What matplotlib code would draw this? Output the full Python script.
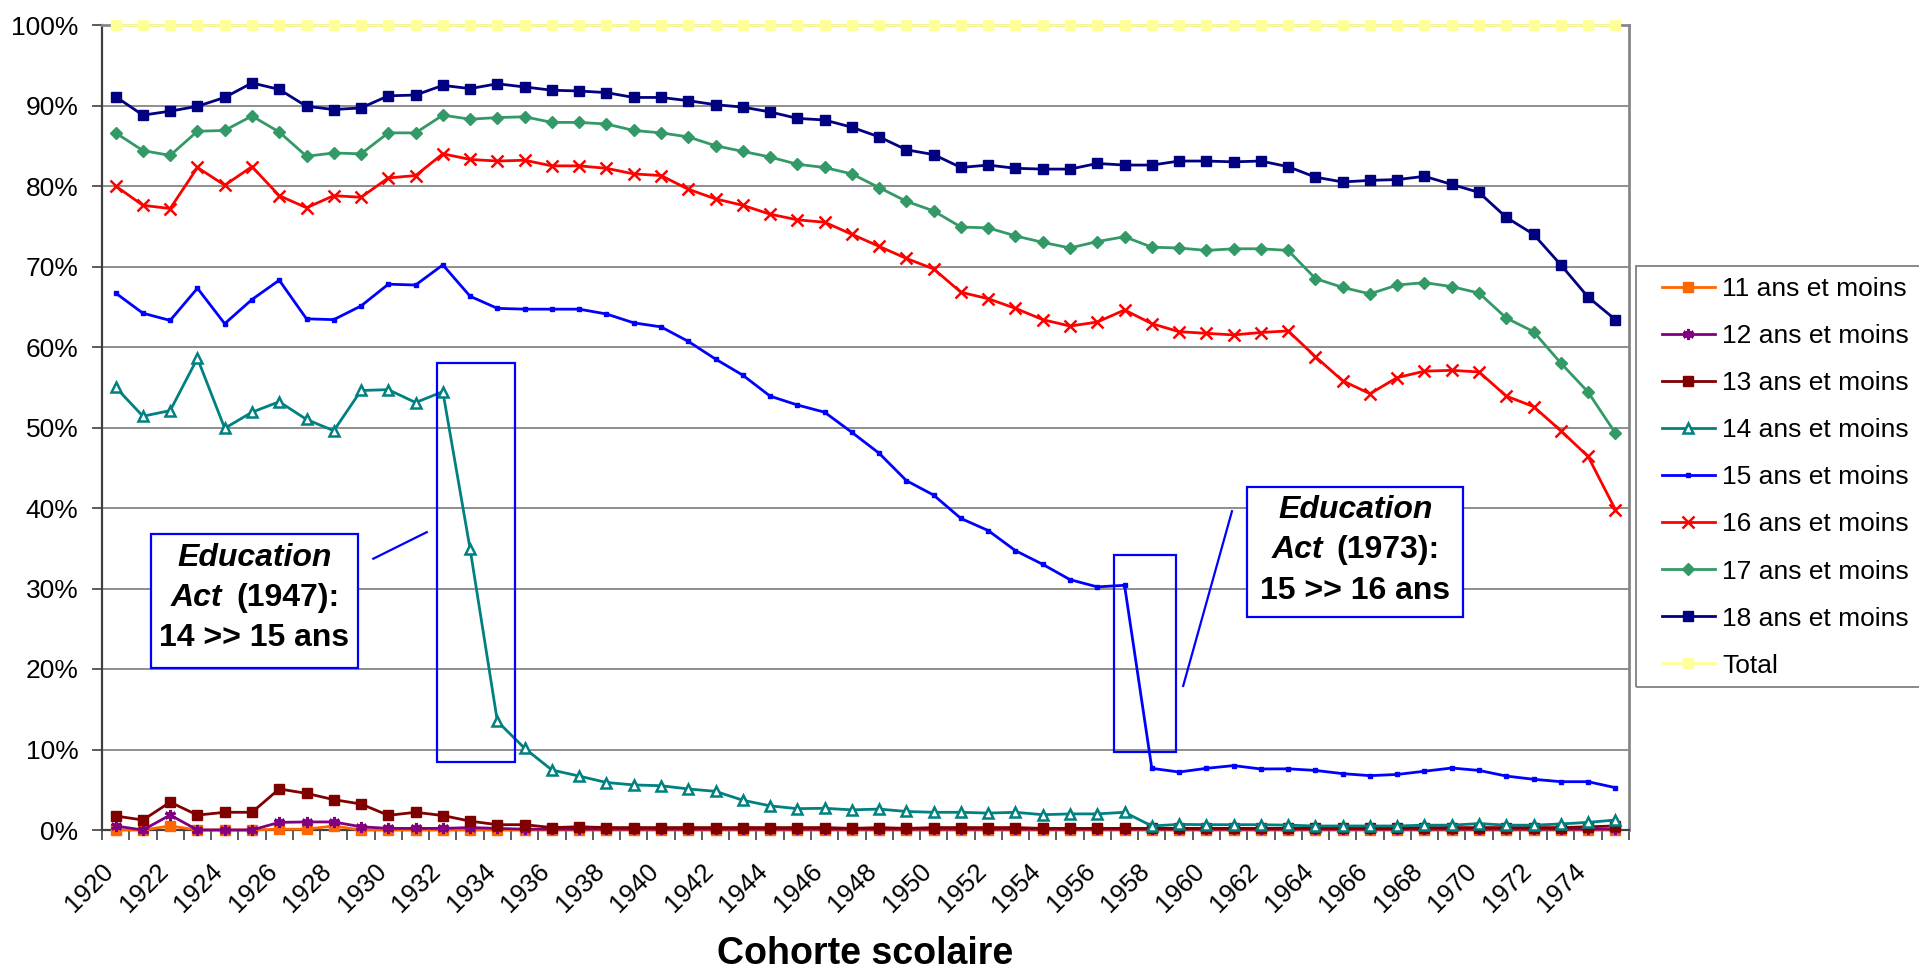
import matplotlib
matplotlib.use('Agg')
import matplotlib.pyplot as plt
import matplotlib.transforms as mtransforms
from matplotlib.patches import Rectangle
from matplotlib.ticker import FuncFormatter, FixedLocator

plt.rcParams['font.family'] = ['Liberation Sans', 'DejaVu Sans']

# ---------------- data ----------------
years = list(range(1920, 1976))
tick_years = list(range(1920, 1975, 2))

s11 = [0.0, 0.0, 0.005, 0.0, 0.0, 0.0, 0.001, 0.001, 0.005, 0.0] + [0.0] * 46
s12 = [0.005, 0.0, 0.0186, 0.0, 0.0, 0.0, 0.0095, 0.010, 0.010, 0.004,
       0.002, 0.002, 0.002, 0.003, 0.002, 0.001, 0.001, 0.001, 0.001, 0.001] + [0.001] * 36
s13 = [0.0174, 0.0124, 0.0346, 0.0185, 0.022, 0.022, 0.051, 0.0455, 0.0377, 0.0323,
       0.0182, 0.022, 0.018, 0.011, 0.0066, 0.0066, 0.003, 0.004, 0.003, 0.003,
       0.003, 0.003, 0.003, 0.003, 0.003, 0.003, 0.003, 0.002, 0.003, 0.002,
       0.003, 0.003, 0.003, 0.003, 0.002, 0.002, 0.002, 0.002, 0.002, 0.002,
       0.002, 0.002, 0.002, 0.002, 0.002, 0.002, 0.002, 0.002, 0.003, 0.003,
       0.003, 0.003, 0.003, 0.003, 0.004, 0.005]
s14 = [0.550, 0.514, 0.521, 0.586, 0.499, 0.519, 0.532, 0.510, 0.496, 0.546,
       0.547, 0.531, 0.5445, 0.349, 0.135, 0.1015, 0.0745, 0.067, 0.059, 0.056,
       0.055, 0.051, 0.048, 0.037, 0.030, 0.0265, 0.027, 0.025, 0.026, 0.023,
       0.022, 0.022, 0.021, 0.022, 0.019, 0.020, 0.020, 0.022, 0.005, 0.007,
       0.0066, 0.0066, 0.0066, 0.006, 0.005, 0.005, 0.005, 0.005, 0.006, 0.006,
       0.008, 0.006, 0.006, 0.0075, 0.0095, 0.0124]
s15 = [0.667, 0.642, 0.633, 0.673, 0.629, 0.659, 0.683, 0.635, 0.634, 0.651,
       0.678, 0.677, 0.702, 0.663, 0.648, 0.647, 0.647, 0.647, 0.641, 0.630,
       0.625, 0.607, 0.585, 0.565, 0.539, 0.528, 0.519, 0.494, 0.468, 0.434,
       0.416, 0.387, 0.372, 0.347, 0.330, 0.311, 0.302, 0.304, 0.0766, 0.072,
       0.0766, 0.080, 0.0758, 0.076, 0.074, 0.070, 0.0675, 0.069, 0.073, 0.077,
       0.074, 0.067, 0.063, 0.060, 0.060, 0.0526]
s16 = [0.800, 0.776, 0.772, 0.823, 0.801, 0.824, 0.788, 0.773, 0.788, 0.786,
       0.810, 0.813, 0.840, 0.833, 0.831, 0.832, 0.825, 0.825, 0.822, 0.815,
       0.813, 0.796, 0.784, 0.776, 0.765, 0.758, 0.755, 0.740, 0.725, 0.710,
       0.697, 0.668, 0.660, 0.648, 0.634, 0.626, 0.631, 0.646, 0.629, 0.619,
       0.617, 0.615, 0.618, 0.620, 0.588, 0.558, 0.542, 0.562, 0.570, 0.571,
       0.569, 0.539, 0.526, 0.496, 0.464, 0.398]
s17 = [0.866, 0.844, 0.838, 0.868, 0.869, 0.887, 0.867, 0.837, 0.841, 0.840,
       0.866, 0.866, 0.888, 0.883, 0.885, 0.886, 0.879, 0.879, 0.877, 0.869,
       0.866, 0.861, 0.850, 0.843, 0.836, 0.827, 0.823, 0.815, 0.798, 0.781,
       0.769, 0.749, 0.748, 0.738, 0.730, 0.723, 0.731, 0.737, 0.724, 0.723,
       0.720, 0.722, 0.722, 0.720, 0.685, 0.674, 0.666, 0.677, 0.680, 0.675,
       0.667, 0.636, 0.619, 0.580, 0.544, 0.493]
s18 = [0.911, 0.888, 0.893, 0.899, 0.910, 0.928, 0.920, 0.899, 0.895, 0.897,
       0.912, 0.913, 0.925, 0.921, 0.927, 0.923, 0.919, 0.918, 0.916, 0.910,
       0.910, 0.906, 0.901, 0.898, 0.892, 0.884, 0.882, 0.873, 0.861, 0.845,
       0.839, 0.823, 0.826, 0.822, 0.821, 0.821, 0.828, 0.826, 0.826, 0.831,
       0.831, 0.830, 0.831, 0.824, 0.811, 0.805, 0.807, 0.808, 0.812, 0.802,
       0.792, 0.761, 0.740, 0.702, 0.662, 0.634]
total = [1.0] * 56

labels = ['11 ans et moins', '12 ans et moins', '13 ans et moins', '14 ans et moins',
          '15 ans et moins', '16 ans et moins', '17 ans et moins', '18 ans et moins', 'Total']

# ---------------- figure ----------------
W, H = 1919, 973
fig = plt.figure(figsize=(W / 100, H / 100), dpi=100)
ax = fig.add_axes([102 / W, (H - 830) / H, (1629 - 102) / W, (830 - 25) / H])

x = list(range(len(years)))

styles = [
    dict(color='#FF6600', marker='s', ms=7, mec='#FF6600', mfc='#FF6600'),
    dict(color='#800080', marker=(6, 2, 0), ms=8, mec='#800080', mew=2.2),
    dict(color='#800000', marker='s', ms=7, mec='#800000', mfc='#800000'),
    dict(color='#008080', marker='^', ms=7, mec='#008080', mfc='white', mew=1.8),
    dict(color='#0000FF', marker='s', ms=3.5, mec='#0000FF', mfc='#0000FF'),
    dict(color='#FF0000', marker='x', ms=9, mec='#FF0000', mew=1.8),
    dict(color='#339966', marker='D', ms=6, mec='#339966', mfc='#339966'),
    dict(color='#000080', marker='s', ms=7.5, mec='#000080', mfc='#000080'),
    dict(color='#FFFF99', marker='s', ms=7.5, mec='#FFFF99', mfc='#FFFF99'),
]
series = [s11, s12, s13, s14, s15, s16, s17, s18, total]

handles = []
for k, (s, st, lab) in enumerate(zip(series, styles, labels)):
    h, = ax.plot(x, s, lw=2.0, label=lab, zorder=3 + k * 0.1, clip_on=False, **st)
    handles.append(h)

ax.set_xlim(-0.5, len(years) - 0.5)
ax.set_ylim(0, 1)

# y axis
ax.set_yticks([i / 10 for i in range(11)])
ax.yaxis.set_major_formatter(FuncFormatter(lambda v, p: f"{int(round(v * 100))}%"))
ax.tick_params(axis='y', direction='out', length=7, width=1.2, color='#404040',
               labelsize=19, pad=10)
ax.grid(axis='y', color='#707070', lw=1.1, zorder=1)
ax.set_axisbelow(True)

# x axis: labels at every second cohort, tick marks at category boundaries
tick_pos = [years.index(t) for t in tick_years]
ax.set_xticks(tick_pos)
ax.set_xticklabels([str(t) for t in tick_years], rotation=45, ha='right', va='center',
                   rotation_mode='anchor', fontsize=18.5)
ax.xaxis.set_minor_locator(FixedLocator([i - 0.5 for i in range(len(years) + 1)]))
ax.tick_params(axis='x', which='major', length=0, pad=27)
ax.tick_params(axis='x', which='minor', direction='out', length=7, width=1.2, color='#404040')
offset = mtransforms.ScaledTranslation(-0.06, 0, fig.dpi_scale_trans)
for lab in ax.get_xticklabels():
    lab.set_transform(lab.get_transform() + offset)

fig.text(865 / W, 1 - 954 / H, 'Cohorte scolaire', fontsize=27, fontweight='bold',
         ha='center', va='center')

for side in ['left', 'bottom']:
    ax.spines[side].set_color('#404040')
    ax.spines[side].set_linewidth(1.6)
for side in ['right', 'top']:
    ax.spines[side].set_color('#888888')
    ax.spines[side].set_linewidth(2.0)

# ---------------- annotations ----------------
blue = '#0000FF'
ax.add_patch(Rectangle((11.77, 0.085), 14.65 - 11.77, 0.58 - 0.085, fill=False,
                       ec=blue, lw=1.6, zorder=6))
ax.add_patch(Rectangle((36.6, 0.0975), 38.9 - 36.6, 0.3416 - 0.0975, fill=False,
                       ec=blue, lw=1.6, zorder=6))
ax.add_patch(Rectangle((1.29, 0.201), 8.88 - 1.29, 0.368 - 0.201, fc='white',
                       ec=blue, lw=1.6, zorder=6))
ax.add_patch(Rectangle((41.5, 0.264), 49.4 - 41.5, 0.426 - 0.264, fc='white',
                       ec=blue, lw=1.6, zorder=6))
ax.plot([9.45, 11.41], [0.337, 0.370], color=blue, lw=1.6, zorder=6)
ax.plot([39.15, 40.94], [0.179, 0.396], color=blue, lw=1.6, zorder=6)

fs_box = 23
def box_text(cx, y1, y2, y3, act_r, par_l, year_txt, line3):
    ax.text(cx, y1, 'Education', ha='center', va='center', fontsize=fs_box,
            fontweight='bold', fontstyle='italic', zorder=7)
    ax.text(act_r, y2, 'Act', ha='right', va='center', fontsize=fs_box,
            fontweight='bold', fontstyle='italic', zorder=7)
    ax.text(par_l, y2, year_txt, ha='left', va='center', fontsize=fs_box,
            fontweight='bold', zorder=7)
    ax.text(cx, y3, line3, ha='center', va='center', fontsize=fs_box,
            fontweight='bold', zorder=7)

box_text(5.08, 0.338, 0.288, 0.238, 3.89, 4.41, '(1947):', '14 >> 15 ans')
box_text(45.46, 0.398, 0.348, 0.297, 44.29, 44.78, '(1973):', '15 >> 16 ans')

# ---------------- legend ----------------
fig.patches.append(Rectangle((1636 / W, (H - 686.7) / H), (1930 - 1636) / W, (686.7 - 265.7) / H,
                             transform=fig.transFigure, fill=False, ec='#808080', lw=1.3))
leg = fig.legend(handles, labels, loc='upper left',
                 bbox_to_anchor=(1662 / W, 1 - 277 / H), bbox_transform=fig.transFigure,
                 frameon=False, fontsize=19,
                 handlelength=2.0, handletextpad=0.27, labelspacing=0.875,
                 borderpad=0, borderaxespad=0)

fig.savefig('out.png', dpi=100)
